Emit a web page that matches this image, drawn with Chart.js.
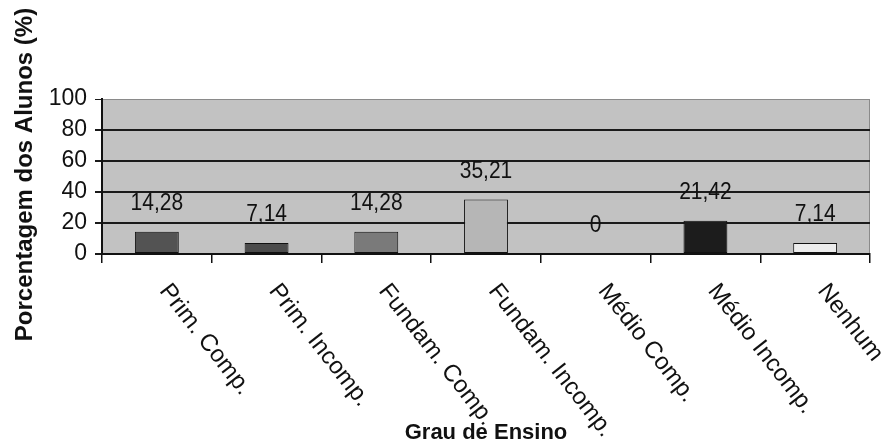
<!DOCTYPE html>
<html lang="pt">
<head>
<meta charset="utf-8">
<title>Grau de Ensino</title>
<script src="https://cdn.jsdelivr.net/npm/chart.js@4.4.1/dist/chart.umd.min.js"></script>
<style>
  html, body { margin: 0; padding: 0; background: #ffffff; }
  canvas { display: block; }
</style>
</head>
<body>
<canvas id="grafico" width="885" height="444"></canvas>
<script>
// Percentage of students by schooling level
const categories = ['Prim. Comp.', 'Prim. Incomp.', 'Fundam. Comp.', 'Fundam. Incomp.', 'Médio Comp.', 'Médio Incomp.', 'Nenhum'];
const percentages = [14.28, 7.14, 14.28, 35.21, 0, 21.42, 7.14];
const barColors = ['#535353', '#4b4b4b', '#7a7a7a', '#b6b6b6', '#9a9a9a', '#1c1c1c', '#ececec'];
const yTickValues = [0, 20, 40, 60, 80, 100];
const yTitle = 'Porcentagem dos Alunos (%)';
const xTitle = 'Grau de Ensino';

const FONT = '"Liberation Sans", Arial, Helvetica, sans-serif';
const fmt = v => String(v).replace('.', ',');

// Gray plot-area background with a thin frame
const plotBackground = {
  id: 'plotBackground',
  beforeDraw(chart) {
    const { ctx, chartArea: a } = chart;
    ctx.save();
    ctx.fillStyle = '#c2c2c2';
    ctx.fillRect(a.left, a.top, a.right - a.left, a.bottom - a.top);
    ctx.strokeStyle = '#8a8a8a';
    ctx.lineWidth = 1;
    ctx.strokeRect(a.left + 0.5, a.top + 0.5, a.right - a.left - 1, a.bottom - a.top - 1);
    ctx.restore();
  }
};

// Value labels above bars, slanted category names and axis titles
const annotations = {
  id: 'annotations',
  afterDraw(chart) {
    const { ctx, chartArea: a } = chart;
    const xs = chart.scales.x, ys = chart.scales.y;
    ctx.save();
    ctx.fillStyle = '#111111';

    // values (slightly tall glyphs)
    ctx.font = '21px ' + FONT;
    ctx.textAlign = 'center';
    ctx.textBaseline = 'middle';
    percentages.forEach((v, i) => {
      ctx.save();
      ctx.translate(xs.getPixelForValue(i), ys.getPixelForValue(v) - 28);
      ctx.scale(1, 1.12);
      ctx.fillText(fmt(v), 0, 0);
      ctx.restore();
    });

    // category names, slanted downwards to the right
    ctx.font = '24px ' + FONT;
    ctx.textAlign = 'left';
    ctx.textBaseline = 'middle';
    const angle = 52 * Math.PI / 180;
    categories.forEach((c, i) => {
      ctx.save();
      ctx.translate(xs.getPixelForValue(i) + 7, a.bottom + 33);
      ctx.rotate(angle);
      ctx.fillText(c, 0, 0);
      ctx.restore();
    });

    // axis titles
    ctx.font = 'bold 22px ' + FONT;
    ctx.textAlign = 'center';
    ctx.fillText(xTitle, (a.left + a.right) / 2, 433);

    ctx.save();
    ctx.font = 'bold 24px ' + FONT;
    ctx.translate(25, (a.top + a.bottom) / 2 - 2);
    ctx.rotate(-Math.PI / 2);
    ctx.fillText(yTitle, 0, 0);
    ctx.restore();

    ctx.restore();
  }
};

new Chart(document.getElementById('grafico'), {
  type: 'bar',
  data: {
    labels: categories,
    datasets: [{
      data: percentages,
      backgroundColor: barColors,
      borderColor: '#111111',
      borderWidth: 1,
      borderSkipped: false,
      categoryPercentage: 1,
      barPercentage: 0.4
    }]
  },
  plugins: [plotBackground, annotations],
  options: {
    responsive: false,
    animation: false,
    events: [],
    layout: { padding: { top: 99, right: 15, left: 0, bottom: 0 } },
    plugins: { legend: { display: false }, tooltip: { enabled: false }, title: { display: false } },
    scales: {
      x: {
        offset: true,
        afterFit(scale) { scale.height = 190; },
        ticks: { display: false },
        grid: {
          offset: true,
          drawOnChartArea: false,
          drawTicks: true,
          tickLength: 9,
          color: '#111111',
          lineWidth: 1.5
        },
        border: { display: true, color: '#111111', width: 2 }
      },
      y: {
        min: 0,
        max: 100,
        afterFit(scale) { scale.width = 102; },
        afterBuildTicks(scale) { scale.ticks = yTickValues.map(v => ({ value: v })); },
        ticks: {
          color: '#111111',
          padding: 8,
          font: { family: FONT, size: 23 }
        },
        grid: {
          drawTicks: true,
          tickLength: 7,
          color: ctx => (ctx.tick && ctx.tick.value === 100 ? '#8a8a8a' : '#1a1a1a'),
          tickColor: '#1a1a1a',
          lineWidth: ctx => (ctx.tick && ctx.tick.value === 100 ? 1 : 2)
        },
        border: { display: true, color: '#111111', width: 2 }
      }
    }
  }
});
</script>
</body>
</html>
